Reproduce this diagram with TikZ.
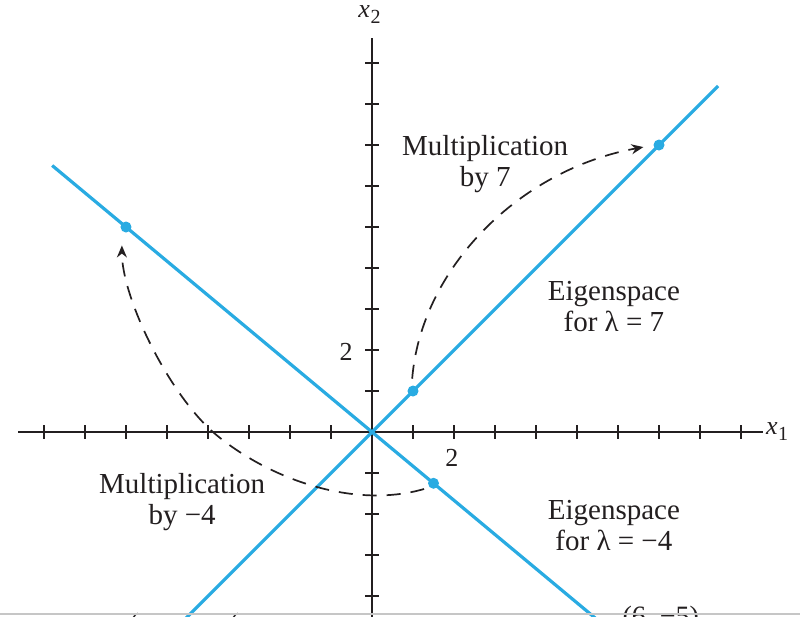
\documentclass[tikz,border=0pt]{standalone}
\usepackage{fontspec}
\setmainfont{Liberation Serif}
\usetikzlibrary{arrows.meta}
\definecolor{eig}{HTML}{29ABE2}
\definecolor{ink}{HTML}{231F20}
\newcommand\xsub[1]{\textit{x}\kern0.3pt\raisebox{-0.5ex}{\fontsize{10}{10}\selectfont #1}}
\begin{document}
\begin{tikzpicture}[x=20.5pt,y=20.5pt,
  axis/.style={line width=1.1pt, draw=ink},
  eigline/.style={line width=1.6pt, draw=eig},
  dot/.style={circle, fill=eig, inner sep=0pt, minimum size=5.5pt},
  lbl/.style={text=ink, font=\fontsize{14.5}{15.5}\selectfont, align=center},
  num/.style={text=ink, font=\fontsize{13}{14}\selectfont, inner sep=0pt},
  mult/.style={draw=ink, line width=0.85pt, dash pattern=on 7pt off 5pt, -{Stealth[length=6pt,width=5pt]}}]
\useasboundingbox (-9.073,-4.488) rectangle (10.439,10.537);
\clip (-9.073,-4.488) rectangle (10.439,10.537);
\fill[white] (-9.073,-4.488) rectangle (10.439,10.537);
% axes
\coordinate (xl) at (-8.63,0);
\coordinate (xr) at (9.54,0);
\coordinate (yb) at (0,-5);
\coordinate (yt) at (0,9.61);
\draw[axis] (xl) -- (xr);
\draw[axis] (yb) -- (yt);
\foreach \i in {-8,...,-1,1,2,...,9} \draw[axis] (\i,-0.16) -- (\i,0.16);
\foreach \j in {-4,...,-1,1,2,...,9} \draw[axis] (-0.16,\j) -- (0.16,\j);
% eigenspaces
\coordinate (a1) at (-5,-5);
\coordinate (a2) at (8.44,8.44);
\coordinate (b1) at (-7.8,6.5);
\coordinate (b2) at (6.6,-5.5);
\draw[eigline] (a1) -- (a2);
\draw[eigline] (b1) -- (b2);
% points
\node[dot] (p1) at (1,1) {};
\node[dot] (p7) at (7,7) {};
\node[dot] (q) at (1.5,-1.25) {};
\node[dot] (q4) at (-6,5) {};
% multiplication arcs
\coordinate (s1) at (0.98,1.3);
\coordinate (e1) at (6.62,6.95);
\draw[mult] (s1) .. controls (1.2,4.0) and (3.6,6.4) .. (e1);
\coordinate (s2) at (1.27,-1.39);
\coordinate (m2) at (-3.88,0);
\coordinate (e2) at (-6.1,4.55);
\draw[mult] (s2) .. controls (-0.5,-1.9) and (-2.6,-1.1) .. (m2)
            .. controls (-5.0,1.0) and (-6.1,3.3) .. (e2);
% axis labels
\node[num] (twox) at (1.95,-0.62) {2};
\node[num] (twoy) at (-0.63,1.95) {2};
\node[num, anchor=base west] (xone) at (9.6,-0.07) {\xsub{1}};
\node[num, anchor=base west] (xtwo) at (-0.34,10.1) {\xsub{2}};
% text labels
\node[lbl] (m7) at (2.76,6.54) {Multiplication\\by 7};
\node[lbl] (m4) at (-4.63,-1.71) {Multiplication\\by −4};
\node[lbl] (e7) at (5.9,3.07) {Eigenspace\\for λ = 7};
\node[lbl] (e4) at (5.9,-2.27) {Eigenspace\\for λ = −4};
% cropped labels at the bottom edge
\node[num, font=\fontsize{14}{15}\selectfont, anchor=base west] (c1) at (6.1,-4.72) {(6, −5)};
\node[num, font=\fontsize{14}{15}\selectfont, anchor=base] (c2) at (-5.8,-4.88) {(};
\node[num, font=\fontsize{14}{15}\selectfont, anchor=base] (c3) at (-3.36,-4.88) {(};
\coordinate (gl) at (-9.1,-4.44);
\coordinate (gr) at (10.5,-4.44);
\draw[gray!45, line width=0.6pt] (gl) -- (gr);
\end{tikzpicture}
\end{document}
